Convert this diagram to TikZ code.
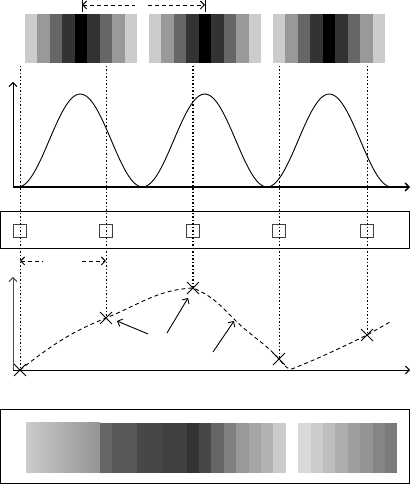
\documentclass[tikz,border=0pt]{standalone}
\usetikzlibrary{arrows.meta,shapes.misc}
\begin{document}
\begin{tikzpicture}[x=1pt,y=1pt,
  >={Straight Barb[length=4pt,width=8pt]},
  ax/.style={line width=0.9pt,->},
  dsh/.style={dash pattern=on 4pt off 3pt,line width=0.9pt},
  guide/.style={dash pattern=on 1.5pt off 2pt,line width=0.9pt},
  pixbox/.style={draw=black!75,line width=1.1pt,minimum size=13pt,inner sep=0pt},
  xmark/.style={cross out,draw,line width=0.9pt,minimum size=11pt,inner sep=0pt}]
\useasboundingbox (0,0) rectangle (411,486);

\foreach \s in {25,149,273}
  \foreach \g [count=\i from 0] in {20,40,60,80,100,80,60,40,20}
    \fill[black!\g] (\s+\i*112/9,423) rectangle (\s+\i*112/9+112/9,472);

\coordinate (pa) at (82,481);
\coordinate (pm1) at (135,481);
\coordinate (pm2) at (148,481);
\coordinate (pb) at (205,481);
\draw[line width=0.9pt] (82,486) -- (82,474) (205,486) -- (205,474);
\draw[dsh,<-] (pa) -- (pm1);
\draw[dsh,->] (pm2) -- (pb);

\coordinate (o1) at (13,299);
\draw[ax] (o1) -- (13,404);
\draw[->,line width=1.4pt] (o1) -- (410,299);
\draw[line width=0.9pt,domain=18:392,samples=150]
  plot (\x,{299+46.5*(1-cos(2.8916*(\x-18)))});

\draw[line width=1pt] (0,237) rectangle (409,274);
\foreach \n/\p in {1/20,2/106,3/193,4/279,5/367}
  \node[pixbox] (s\n) at (\p,255) {};

\coordinate (da) at (20,225);
\coordinate (dm1) at (43,225);
\coordinate (dm2) at (82,225);
\coordinate (db) at (106,225);
\draw[dsh,<-] (da) -- (dm1);
\draw[dsh,->] (dm2) -- (db);

\coordinate (o2) at (13,116);
\draw[ax,black!70] (o2) -- (13,209);
\draw[ax] (o2) -- (410,116);

\node[xmark] (x1) at (20,116) {};
\node[xmark] (x2) at (106,168) {};
\node[xmark] (x3) at (193,198) {};
\node[xmark] (x4) at (279,127) {};
\node[xmark] (x5) at (367,151) {};

\foreach \n/\p in {1/20,2/106,4/279,5/367}
  \draw[guide] (\p,420) -- (x\n.center);
\draw[guide,line width=1.4pt] (193,420) -- (x3.center);

\coordinate (k1) at (235,166);
\coordinate (k2) at (292,117);
\coordinate (k3) at (390,164);
\draw[dsh] (x1.center) to[out=38,in=202] (x2.center)
  to[out=22,in=183] (x3.center)
  to[out=-22,in=135] (k1)
  to[out=-45,in=132] (x4.center)
  to[out=-48,in=180] (k2)
  to[out=22,in=206] (x5.center)
  to[out=29,in=209] (k3);

\coordinate (a1) at (148,152);
\coordinate (b1) at (117,165);
\coordinate (a2) at (167,153);
\coordinate (b2) at (188,188);
\coordinate (a3) at (213,134);
\coordinate (b3) at (234,165);
\draw[->,line width=0.9pt] (a1) -- (b1);
\draw[->,line width=0.9pt] (a2) -- (b2);
\draw[->,line width=0.9pt] (a3) -- (b3);

\draw[line width=1pt] (0,2) rectangle (409,76);
\shade[left color=black!20,right color=black!42] (26,13) rectangle (100,63);
\foreach \a/\b/\g in {100/112/60,112/137/65,137/162/72,162/187/75,187/199/80,
  199/211/72,211/224/60,224/236/50,236/249/40,249/261/35,261/273/30,273/286/20,
  298/311/15,311/323/20,323/335/25,335/348/32,348/360/38,360/373/42,373/385/48,385/397/52}
  \fill[black!\g] (\a,13) rectangle (\b,63);
\end{tikzpicture}
\end{document}
